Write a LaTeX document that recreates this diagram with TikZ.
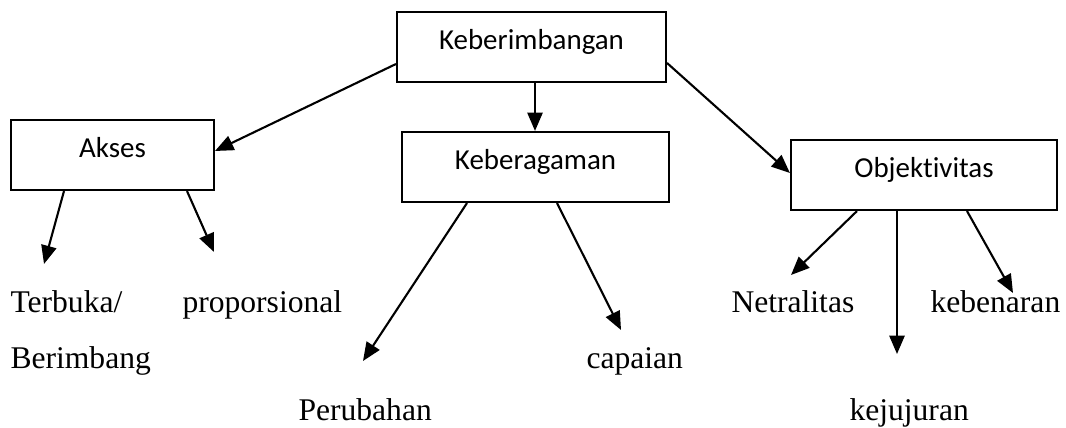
\documentclass[tikz,border=0pt]{standalone}
\usepackage{fontspec}
\setmainfont{Liberation Serif}
\newfontfamily\boxfont[Ligatures=NoCommon]{Carlito}
\usetikzlibrary{arrows.meta}
\tikzset{
  kotak/.style={draw, line width=0.8pt, inner sep=0pt, text height=14.4pt, text depth=12.2pt,
    font=\boxfont\fontsize{11}{13}\selectfont},
  teks/.style={anchor=base west, inner sep=0pt, font=\fontsize{12}{14}\selectfont},
  panah/.style={line width=0.8pt, -{Triangle[length=7pt,width=5.8pt]}}
}
\begin{document}
\begin{tikzpicture}[x=0.38pt,y=-0.38pt]
\useasboundingbox (0,0) rectangle (1066,428);
%
\node[kotak, minimum width=102.2pt] (kb) at (531.5,47) {Keberimbangan};
\node[kotak, minimum width=77.1pt] (ak) at (112.5,155) {Akses};
\node[kotak, minimum width=101.5pt] (kg) at (535.5,167) {Keberagaman};
\node[kotak, minimum width=101.1pt] (ob) at (924,175) {Objektivitas};
%
\node[teks] (tb) at (10,313) {Terbuka/};
\node[teks] (bb) at (10,369) {Berimbang};
\node[teks] (pp) at (182,313) {proporsional};
\node[teks] (pb) at (298,421) {Perubahan};
\node[teks] (cp) at (586,369) {capaian};
\node[teks] (nt) at (731,313) {Netralitas};
\node[teks] (kn) at (930,313) {kebenaran};
\node[teks] (kj) at (849,421) {kejujuran};
%
\coordinate (t1) at (44,264);
\coordinate (t2) at (214,252);
\coordinate (t3) at (363,361);
\coordinate (t4) at (621,330);
\coordinate (t5) at (791,275);
\coordinate (t6) at (897,354);
\coordinate (t7) at (1013,293);
%
\draw[panah] (kb.west |- 0,64) -- (ak.east |- 0,151);
\draw[panah] (kb.south -| 535,0) -- (kg.north -| 535,0);
\draw[panah] (kb.east |- 0,63) -- (ob.west |- 0,173);
%
\draw[panah] (ak.south -| 64,0) -- (t1);
\draw[panah] (ak.south -| 187,0) -- (t2);
\draw[panah] (kg.south -| 467,0) -- (t3);
\draw[panah] (kg.south -| 557,0) -- (t4);
\draw[panah] (ob.south -| 857,0) -- (t5);
\draw[panah] (ob.south -| 897,0) -- (t6);
\draw[panah] (ob.south -| 967,0) -- (t7);
%
\end{tikzpicture}
\end{document}
